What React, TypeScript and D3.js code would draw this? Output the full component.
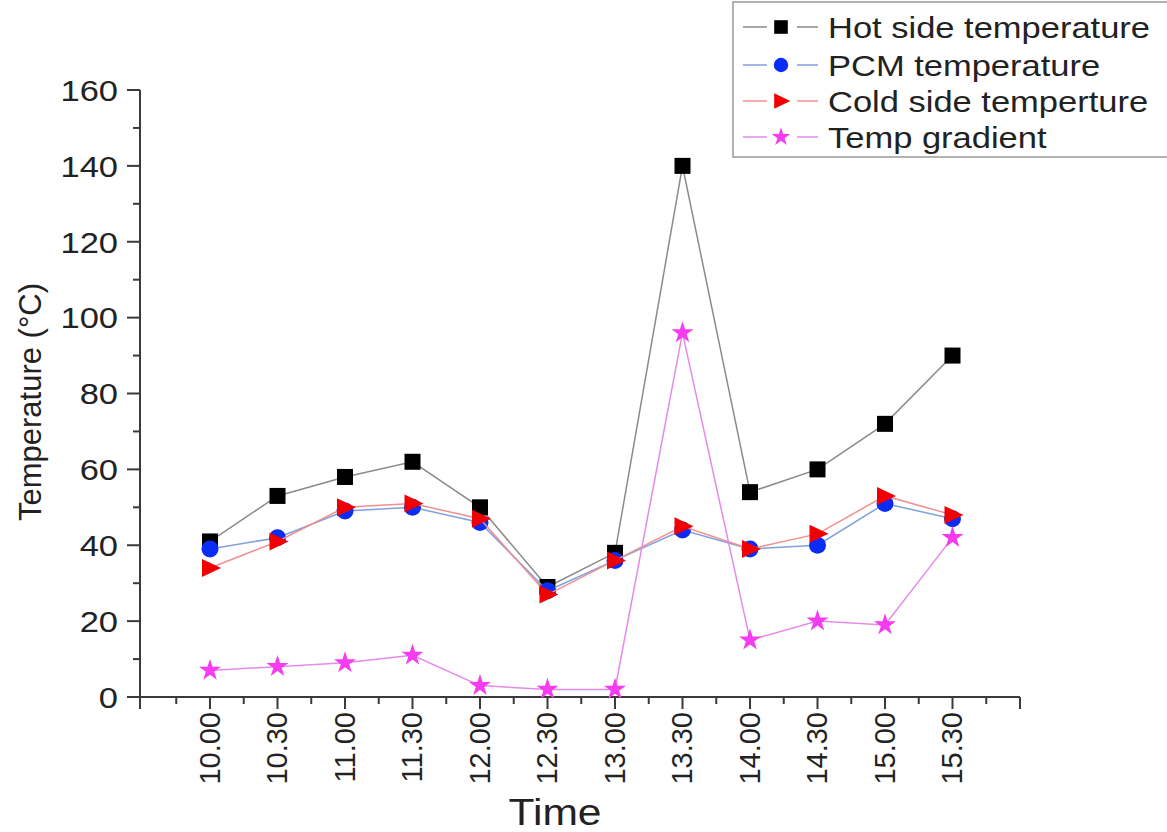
import React from "react";
import * as d3 from "d3";

const times = ["10.00", "10.30", "11.00", "11.30", "12.00", "12.30", "13.00", "13.30", "14.00", "14.30", "15.00", "15.30"];
const hotSide = [41, 53, 58, 62, 50, 29, 38, 140, 54, 60, 72, 90];
const pcmTemp = [39, 42, 49, 50, 46, 28, 36, 44, 39, 40, 51, 47];
const coldSide = [34, 41, 50, 51, 47, 27, 36, 45, 39, 43, 53, 48];
const tempGradient = [7, 8, 9, 11, 3, 2, 2, 96, 15, 20, 19, 42];
const yTicks = [0, 20, 40, 60, 80, 100, 120, 140, 160];
const yMinorTicks = [10, 30, 50, 70, 90, 110, 130, 150];

const FONT = "'Liberation Sans', Arial, Helvetica, sans-serif";
const SX = 1.15;

type Series = { name: string; values: number[]; line: string; marker: string; fill: string };
const series: Series[] = [
  { name: "Hot side temperature", values: hotSide, line: "#8a8a8a", marker: "square", fill: "#000000" },
  { name: "PCM temperature", values: pcmTemp, line: "#7f9fe0", marker: "circle", fill: "#0a2cf5" },
  { name: "Cold side temperture", values: coldSide, line: "#f09090", marker: "triangle", fill: "#f00000" },
  { name: "Temp gradient", values: tempGradient, line: "#e58ae8", marker: "star", fill: "#f63cf0" },
];

function Marker({ type, x, y, fill, s = 1 }: { type: string; x: number; y: number; fill: string; s?: number }) {
  if (type === "square") return <rect x={x - 8 * s} y={y - 8 * s} width={16 * s} height={16 * s} fill={fill} />;
  if (type === "circle") return <circle cx={x} cy={y} r={8.5 * s} fill={fill} />;
  if (type === "triangle") {
    const p = d3.path();
    p.moveTo(x - 8 * s, y - 9 * s);
    p.lineTo(x + 11 * s, y);
    p.lineTo(x - 8 * s, y + 9 * s);
    p.closePath();
    return <path d={p.toString()} fill={fill} />;
  }
  const star = d3.symbol(d3.symbolStar, 150 * s * s)();
  return <path d={star || ""} transform={`translate(${x},${y})`} fill={fill} />;
}

export default function App() {
  const x = d3.scaleLinear().domain([-1.037, 12]).range([140, 1020]);
  const y = d3.scaleLinear().domain([0, 160]).range([697, 90]);
  const idx = d3.range(times.length);
  const majorX = d3.range(0, 13);
  const minorX = d3.range(-0.5, 12, 1);
  const axisColor = "#3a3a3a";

  const line = (vals: number[]) =>
    d3
      .line<number>()
      .x((_, i) => x(i))
      .y((v) => y(v))(vals) || "";

  const legendRows = [27, 65, 101, 137];

  return (
    <svg width={1167} height={832} style={{ position: "absolute", left: 0, top: 0, background: "#fff" }} fontFamily={FONT}>
      {/* y axis */}
      <line x1={140} x2={140} y1={y(160)} y2={y(0) + 12} stroke={axisColor} strokeWidth={2} />
      {yTicks.map((t) => (
        <g key={"yt" + t}>
          <line x1={127} x2={140} y1={y(t)} y2={y(t)} stroke={axisColor} strokeWidth={2} />
          <text transform={`translate(118,${y(t)}) scale(${SX},1)`} textAnchor="end" dy="0.36em" fontSize={30} fill="#222">
            {t}
          </text>
        </g>
      ))}
      {yMinorTicks.map((t) => (
        <line key={"ym" + t} x1={133} x2={140} y1={y(t)} y2={y(t)} stroke={axisColor} strokeWidth={2} />
      ))}
      {/* x axis */}
      <line x1={140} x2={1020} y1={y(0)} y2={y(0)} stroke={axisColor} strokeWidth={2} />
      {majorX.map((i) => (
        <line key={"xt" + i} x1={x(i)} x2={x(i)} y1={y(0)} y2={y(0) + 12} stroke={axisColor} strokeWidth={2} />
      ))}
      {minorX.map((i) => (
        <line key={"xm" + i} x1={x(i)} x2={x(i)} y1={y(0)} y2={y(0) + 7} stroke={axisColor} strokeWidth={2} />
      ))}
      {times.map((t, i) => (
        <text key={"xl" + t} transform={`translate(${x(i) + 10},712) rotate(-90)`} textAnchor="end" fontSize={29} fill="#222">
          {t}
        </text>
      ))}
      {/* titles */}
      <text transform={`translate(555,825) scale(${SX},1)`} textAnchor="middle" fontSize={37} fill="#222">
        Time
      </text>
      <text transform={`translate(41,402) rotate(-90)`} textAnchor="middle" fontSize={31} fill="#222">
        Temperature (°C)
      </text>
      {/* series */}
      {series.map((s) => (
        <g key={s.name}>
          <path d={line(s.values)} fill="none" stroke={s.line} strokeWidth={1.5} />
          {idx.map((i) => (
            <Marker key={i} type={s.marker} x={x(i)} y={y(s.values[i])} fill={s.fill} />
          ))}
        </g>
      ))}
      {/* legend */}
      <rect x={733} y={2} width={440} height={155} fill="#fff" stroke="#9a9a9a" strokeWidth={1.5} />
      {series.map((s, k) => (
        <g key={"lg" + s.name}>
          <line x1={743} x2={767} y1={legendRows[k]} y2={legendRows[k]} stroke={s.line} strokeWidth={1.5} />
          <line x1={797} x2={818} y1={legendRows[k]} y2={legendRows[k]} stroke={s.line} strokeWidth={1.5} />
          <Marker type={s.marker} x={781} y={legendRows[k]} fill={s.fill} s={0.85} />
          <text transform={`translate(828,${legendRows[k]}) scale(${SX},1)`} dy="0.36em" fontSize={30} fill="#222">
            {s.name}
          </text>
        </g>
      ))}
    </svg>
  );
}
